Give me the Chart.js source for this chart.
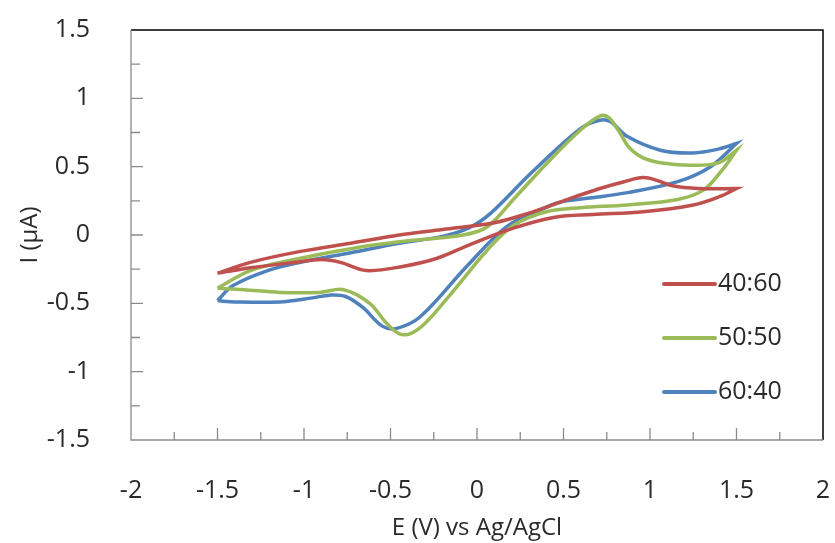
<!DOCTYPE html>
<html>
<head>
<meta charset="utf-8">
<script src="https://cdn.jsdelivr.net/npm/chart.js@4"></script>
<style>
    html, body { margin: 0; padding: 0; background: #fff; }
    #cvCanvas { display: block; }
</style>
</head>
<body>
<canvas id="cvCanvas" width="835" height="543"></canvas>
<script>
// cyclic voltammograms, each sweep kept as forward (to +1.5 V) and reverse (back to -1.5 V)
const red_fwd_E = [-1.5, -1.31, -1.02, -0.73, -0.45, -0.2, 0.1, 0.3, 0.5, 0.71, 0.85, 0.96, 1.04, 1.13, 1.28, 1.5];
const red_fwd_I = [-0.28, -0.20, -0.12, -0.06, 0.0, 0.04, 0.09, 0.16, 0.25, 0.34, 0.39, 0.42, 0.40, 0.36, 0.34, 0.34];
const red_rev_E = [1.5, 1.40, 1.25, 0.96, 0.67, 0.45, 0.21, -0.04, -0.23, -0.43, -0.64, -0.79, -0.9, -1.05, -1.31, -1.5];
const red_rev_I = [0.34, 0.28, 0.22, 0.17, 0.15, 0.13, 0.05, -0.07, -0.17, -0.23, -0.26, -0.20, -0.18, -0.20, -0.24, -0.28];

const green_fwd_E = [-1.5, -1.31, -1.02, -0.73, -0.45, -0.08, 0.06, 0.21, 0.40, 0.60, 0.71, 0.76, 0.82, 0.88, 0.96, 1.08, 1.25, 1.40, 1.5];
const green_fwd_I = [-0.39, -0.26, -0.17, -0.10, -0.05, 0.0, 0.06, 0.26, 0.52, 0.77, 0.87, 0.86, 0.76, 0.64, 0.565, 0.525, 0.51, 0.53, 0.62];
const green_rev_E = [1.5, 1.42, 1.31, 1.16, 0.87, 0.60, 0.40, 0.21, 0.06, -0.17, -0.33, -0.43, -0.52, -0.62, -0.77, -0.91, -1.14, -1.35, -1.5];
const green_rev_I = [0.62, 0.48, 0.33, 0.26, 0.22, 0.20, 0.17, 0.07, -0.11, -0.46, -0.68, -0.73, -0.65, -0.50, -0.40, -0.42, -0.42, -0.40, -0.39];

const blue_fwd_E = [-1.5, -1.41, -1.21, -1.02, -0.73, -0.45, -0.2, -0.05, 0.08, 0.31, 0.6, 0.71, 0.77, 0.87, 1.06, 1.25, 1.40, 1.5];
const blue_fwd_I = [-0.48, -0.37, -0.26, -0.20, -0.13, -0.06, -0.01, 0.05, 0.16, 0.45, 0.78, 0.84, 0.83, 0.72, 0.62, 0.60, 0.63, 0.67];
const blue_rev_E = [1.5, 1.35, 1.16, 0.87, 0.65, 0.48, 0.36, 0.17, -0.06, -0.33, -0.47, -0.55, -0.66, -0.76, -0.85, -0.95, -1.14, -1.4, -1.5];
const blue_rev_I = [0.67, 0.50, 0.39, 0.31, 0.27, 0.24, 0.18, 0.06, -0.23, -0.60, -0.685, -0.665, -0.53, -0.45, -0.44, -0.46, -0.49, -0.49, -0.48];

const seriesNames = ['40:60', '50:50', '60:40'];
const seriesColors = ['#C0504D', '#9BBB59', '#4F81BD'];

const FONT = "'Open Sans', 'DejaVu Sans', sans-serif";
const TEXT_COLOR = '#2a2a2a';

// joins the two half-sweeps into one closed loop of {x, y} points
function loop(fE, fI, rE, rI) {
    const pts = fE.map((e, i) => ({x: e, y: fI[i]}));
    return pts.concat(rE.map((e, i) => ({x: e, y: rI[i]})));
}

const loops = [
    loop(red_fwd_E, red_fwd_I, red_rev_E, red_rev_I),
    loop(green_fwd_E, green_fwd_I, green_rev_E, green_rev_I),
    loop(blue_fwd_E, blue_fwd_I, blue_rev_E, blue_rev_I)
];

// axes, inward tick marks and the black top/right border
const framePlugin = {
    id: 'frame',
    beforeDatasetsDraw(chart) {
        const {ctx, chartArea: a, scales} = chart;
        ctx.save();
        ctx.strokeStyle = '#000';
        ctx.lineWidth = 1.5;
        ctx.beginPath();
        ctx.moveTo(a.left, a.top);
        ctx.lineTo(a.right, a.top);
        ctx.lineTo(a.right, a.bottom);
        ctx.stroke();

        ctx.strokeStyle = '#8a8a8a';
        ctx.lineWidth = 1.3;
        ctx.beginPath();
        ctx.moveTo(a.left, a.top);
        ctx.lineTo(a.left, a.bottom);
        ctx.lineTo(a.right, a.bottom);
        for (let i = 1; i < 16; i++) {
            const v = -2 + i * 0.25;
            const px = scales.x.getPixelForValue(v);
            const len = i % 2 === 0 ? 12 : 8;
            ctx.moveTo(px, a.bottom);
            ctx.lineTo(px, a.bottom - len);
        }
        for (let i = 1; i < 12; i++) {
            const v = -1.5 + i * 0.25;
            const py = scales.y.getPixelForValue(v);
            const len = i % 2 === 0 ? 12 : 9;
            ctx.moveTo(a.left, py);
            ctx.lineTo(a.left + len, py);
        }
        ctx.stroke();
        ctx.restore();
    },
    afterDraw(chart) {
        // legend sits inside the plot, lower right
        const {ctx} = chart;
        ctx.save();
        ctx.font = '25px ' + FONT;
        ctx.textBaseline = 'middle';
        ctx.textAlign = 'left';
        chart.data.datasets.forEach((ds, i) => {
            const y = 284 + i * 54;
            ctx.strokeStyle = ds.borderColor;
            ctx.lineWidth = 4;
            ctx.lineCap = 'round';
            ctx.beginPath();
            ctx.moveTo(664, y);
            ctx.lineTo(715, y);
            ctx.stroke();
            ctx.fillStyle = TEXT_COLOR;
            ctx.fillText(ds.label, 718, y);
        });
        ctx.restore();
    }
};

document.addEventListener('DOMContentLoaded', function() {
    const ctx = document.getElementById('cvCanvas').getContext('2d');
    new Chart(ctx, {
        type: 'scatter',
        data: {
            datasets: loops.map((pts, i) => ({
                label: seriesNames[i],
                data: pts,
                showLine: true,
                borderColor: seriesColors[i],
                backgroundColor: seriesColors[i],
                borderWidth: 3.5,
                pointRadius: 0,
                tension: 0.35,
                fill: false
            }))
        },
        options: {
            responsive: false,
            animation: false,
            events: [],
            layout: {
                padding: {top: 30, right: 12, left: 0, bottom: 0}
            },
            plugins: {
                legend: {display: false},
                tooltip: {enabled: false}
            },
            scales: {
                x: {
                    type: 'linear',
                    min: -2,
                    max: 2,
                    grid: {display: false, drawTicks: false},
                    border: {display: false},
                    ticks: {
                        stepSize: 0.5,
                        padding: 36,
                        color: TEXT_COLOR,
                        font: {family: FONT, size: 25},
                        maxRotation: 0,
                        callback: v => String(Math.round(v * 100) / 100)
                    },
                    title: {
                        display: true,
                        text: 'E (V) vs Ag/AgCl',
                        color: TEXT_COLOR,
                        font: {family: FONT, size: 24},
                        padding: {top: 2, bottom: 0}
                    },
                    afterFit: scale => {
                        scale.height = 103;
                        scale.paddingLeft = 0;
                        scale.paddingRight = 0;
                    }
                },
                y: {
                    type: 'linear',
                    min: -1.5,
                    max: 1.5,
                    grid: {display: false, drawTicks: false},
                    border: {display: false},
                    ticks: {
                        stepSize: 0.5,
                        padding: 41,
                        color: TEXT_COLOR,
                        font: {family: FONT, size: 25},
                        callback: v => String(Math.round(v * 100) / 100)
                    },
                    title: {
                        display: true,
                        text: 'I (µA)',
                        color: TEXT_COLOR,
                        font: {family: FONT, size: 24},
                        padding: {top: 16, bottom: 0}
                    },
                    afterFit: scale => {
                        scale.width = 131;
                        scale.paddingTop = 0;
                        scale.paddingBottom = 0;
                    }
                }
            }
        },
        plugins: [framePlugin]
    });
});
</script>
</body>
</html>
